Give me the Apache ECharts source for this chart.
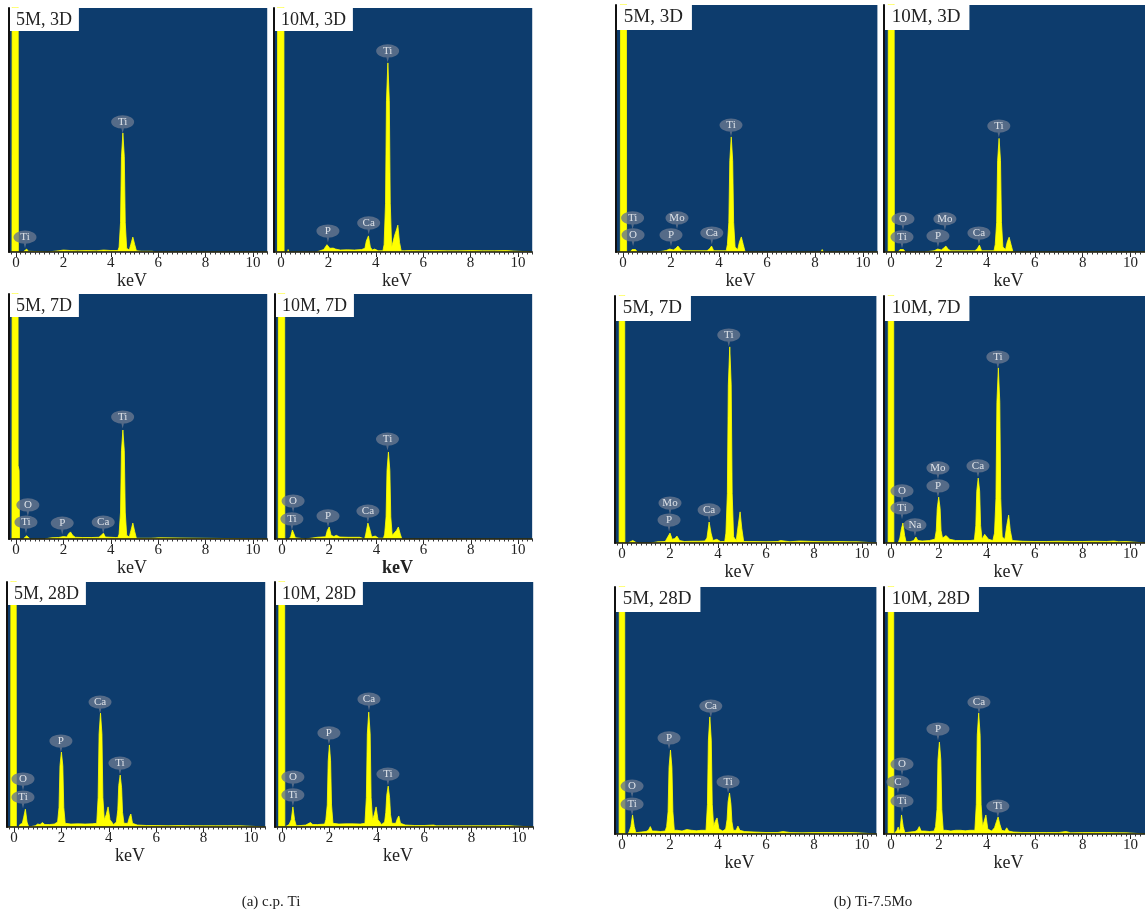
<!DOCTYPE html>
<html><head><meta charset="utf-8">
<script src="https://cdn.jsdelivr.net/npm/echarts@6.0.0/dist/echarts.min.js"></script>
<style>html,body{margin:0;padding:0;background:#fff}#c{width:1145px;height:916px}</style>
</head><body><div id="c"></div>
<script>
// ---------- DATA ----------
const panelLabels = ['5M, 3D','10M, 3D','5M, 7D','10M, 7D','5M, 28D','10M, 28D',
                     '5M, 3D','10M, 3D','5M, 7D','10M, 7D','5M, 28D','10M, 28D'];
const captions = ['(a) c.p. Ti', '(b) Ti-7.5Mo'];
const tickLabels = [0, 2, 4, 6, 8, 10];
const axisName = 'keV';

// spectra: [keV, relative counts (% of plot height); the 0 keV noise peak is off-scale]
const specA_5M3D = [[-0.3,0],[-0.17,0],[-0.15,300],[0.08,300],[0.1,0],[0.3,0],[0.38,0.3],[0.45,1.2],[0.52,0.3],[0.6,0],[1.35,0],[1.4,0.6],[1.8,0.5],[2.0,0.8],[2.3,0.6],[2.6,0.5],[3.0,0.6],[3.4,0.5],[3.7,0.8],[4.0,0.6],[4.3,0.6],[4.35,2],[4.41,12],[4.45,39],[4.51,48.8],[4.57,39],[4.61,12],[4.67,1.5],[4.78,0.8],[4.84,3],[4.93,6.1],[5.01,3],[5.08,0.5],[5.3,0.3],[5.75,0.3],[5.8,0.8],[5.85,0],[10.6,0]];
const specA_10M3D = [[-0.3,0],[-0.15,0],[-0.13,300],[0.11,300],[0.13,0],[0.28,0],[0.3,1],[0.33,0],[1.5,0],[1.55,0.8],[1.8,1],[1.88,1.5],[1.94,3],[1.99,3.7],[2.06,1.5],[2.2,1.6],[2.3,1.2],[2.5,0.8],[2.8,0.9],[3.1,0.8],[3.4,1],[3.54,1.5],[3.6,4.5],[3.69,6.6],[3.77,2],[3.85,0.8],[3.95,1.2],[4.02,1.6],[4.1,0.5],[4.3,0.5],[4.35,3],[4.41,20],[4.45,62],[4.51,77.5],[4.57,62],[4.61,20],[4.67,2],[4.72,2],[4.8,7],[4.87,9],[4.93,11],[5.0,4],[5.07,0.5],[5.2,0.5],[5.5,0.6],[6.0,0.5],[6.5,0.6],[7.0,0.5],[7.5,0.5],[8.0,0.6],[8.5,0.5],[9.0,0.5],[9.5,0.6],[9.8,0.4],[9.85,0],[10.6,0]];
const specA_5M7D = [[-0.3,0],[-0.17,0],[-0.15,300],[0.08,300],[0.09,30],[0.13,28],[0.15,0],[0.3,0],[0.38,0.5],[0.45,1.3],[0.52,0.5],[0.6,0],[1.2,0],[1.25,0.6],[1.5,0.5],[1.8,0.6],[2.0,1],[2.15,0.8],[2.21,2],[2.3,2.9],[2.39,1.5],[2.5,0.7],[2.8,0.6],[3.2,0.6],[3.5,0.7],[3.6,1.5],[3.69,2.4],[3.77,0.8],[4.2,0.6],[4.3,0.6],[4.35,2],[4.41,11],[4.45,36],[4.51,44.5],[4.57,36],[4.61,11],[4.67,1.5],[4.78,0.8],[4.85,3.5],[4.93,6.5],[5.01,3],[5.08,0.3],[5.7,0.3],[5.75,0.8],[6.05,0.5],[6.1,0],[10.6,0]];
const specA_10M7D = [[-0.3,0],[-0.16,0],[-0.14,300],[0.1,300],[0.12,0],[0.3,0],[0.37,1],[0.44,3.7],[0.5,3.5],[0.57,0.5],[0.65,0],[1.0,0],[1.05,0.8],[1.5,0.7],[1.85,0.9],[1.92,3.5],[2.0,4.9],[2.08,1.5],[2.2,1],[2.3,1.5],[2.45,0.8],[2.8,0.7],[3.3,0.7],[3.35,0],[3.5,0],[3.55,2],[3.64,6.5],[3.72,4],[3.8,0.8],[3.95,1.2],[4.1,0.3],[4.3,0.3],[4.35,2],[4.41,9],[4.45,28],[4.51,35.5],[4.57,28],[4.61,9],[4.67,1.5],[4.75,1],[4.85,3.5],[4.93,4.9],[5.01,2],[5.08,0],[10.6,0]];
const specA_5M28D = [[-0.3,0],[-0.14,0],[-0.12,300],[0.08,300],[0.1,0],[0.2,0],[0.25,1],[0.35,1.5],[0.41,4],[0.48,7.3],[0.55,2],[0.62,0],[0.9,0.5],[1.0,1.2],[1.1,1],[1.2,1.8],[1.3,1],[1.5,1],[1.7,1.2],[1.84,2],[1.9,8],[1.94,25],[2.0,30.6],[2.06,25],[2.1,8],[2.16,1.5],[2.4,1.2],[2.7,1.3],[3.0,1.2],[3.3,1.3],[3.49,1.5],[3.55,12],[3.59,38],[3.65,46.5],[3.71,38],[3.75,12],[3.81,3],[3.89,5],[3.97,8.2],[4.05,3],[4.2,1],[4.32,2],[4.38,7],[4.42,17],[4.48,21.2],[4.54,16],[4.58,6],[4.64,1.5],[4.8,1.5],[4.87,4],[4.93,5.3],[5.0,1.5],[5.2,0.8],[5.6,0.6],[6.0,0.6],[6.5,0.5],[7.0,0.6],[7.5,0.5],[8.0,0.5],[8.5,0.5],[9.0,0.5],[9.5,0.5],[9.8,0.4],[9.85,0],[10.6,0]];
const specA_10M28D = [[-0.3,0],[-0.14,0],[-0.12,300],[0.1,300],[0.12,0],[0.2,0],[0.3,1],[0.39,3],[0.46,8.2],[0.53,3],[0.6,0.5],[0.8,0.6],[1.0,0.8],[1.2,1.8],[1.3,1],[1.5,1],[1.8,1.2],[1.85,3],[1.91,9],[1.95,27],[2.0,33.5],[2.05,27],[2.09,9],[2.15,1.5],[2.4,1.2],[2.7,1.3],[3.0,1.3],[3.3,1.2],[3.5,1.5],[3.56,12],[3.6,38],[3.66,46.9],[3.72,38],[3.76,12],[3.82,3],[3.89,5],[3.97,8.2],[4.05,3],[4.2,1],[4.33,2],[4.38,6],[4.42,13],[4.48,16.7],[4.54,12],[4.58,5],[4.64,1.5],[4.8,1.5],[4.87,3.5],[4.93,4.5],[5.0,1.5],[5.2,0.8],[5.6,0.6],[6.0,0.6],[6.4,0.8],[6.5,0.5],[7.0,0.5],[7.5,0.5],[8.0,0.5],[8.5,0.5],[9.0,0.5],[9.5,0.6],[9.8,0.4],[9.85,0],[10.6,0]];
const specB_5M3D = [[-0.3,0],[-0.11,0],[-0.09,300],[0.13,300],[0.15,0],[0.3,0],[0.38,1],[0.45,1.5],[0.52,1],[0.6,0],[0.95,0],[1.0,0.8],[1.05,0],[1.45,0],[1.5,0.6],[1.8,0.6],[1.95,1.2],[2.0,1.5],[2.1,0.8],[2.2,1.5],[2.29,2.4],[2.4,1],[2.5,0.5],[3.0,0.5],[3.5,0.5],[3.6,1.2],[3.69,2.4],[3.78,0.5],[4.3,0.5],[4.35,3],[4.41,12],[4.45,37],[4.51,46.6],[4.57,37],[4.61,12],[4.67,2],[4.78,1],[4.85,4],[4.93,6.1],[5.01,3],[5.09,0],[5.98,0],[6.0,0.8],[6.02,0],[6.78,0],[6.8,0.8],[6.82,0],[8.25,0],[8.3,1],[8.35,0],[10.6,0]];
const specB_10M3D = [[-0.3,0],[-0.12,0],[-0.1,300],[0.12,300],[0.14,0],[0.3,0],[0.38,1],[0.45,1.5],[0.52,1],[0.6,0],[1.0,0],[1.02,0.5],[1.05,0],[1.4,0],[1.45,0.5],[1.8,0.5],[1.95,1.2],[2.0,1.6],[2.1,0.8],[2.2,1.6],[2.29,2.4],[2.4,1],[2.5,0.5],[3.0,0.5],[3.5,0.5],[3.6,1.3],[3.69,2.8],[3.78,0.5],[4.3,0.5],[4.35,3],[4.41,12],[4.45,37],[4.51,46],[4.57,37],[4.61,12],[4.67,2],[4.78,1],[4.85,4],[4.93,6],[5.01,3],[5.09,0],[10.6,0]];
const specB_5M7D = [[-0.3,0],[-0.12,0],[-0.1,300],[0.1,300],[0.12,0],[0.25,0],[0.3,0.6],[0.45,1],[0.55,0.4],[0.65,0],[1.2,0],[1.25,0.4],[1.5,0.5],[1.8,0.6],[1.91,2.5],[2.0,4],[2.09,1.5],[2.2,1.8],[2.29,2.8],[2.4,1],[2.6,0.6],[2.9,0.7],[3.2,0.7],[3.45,0.8],[3.54,2],[3.63,8.5],[3.71,4],[3.79,1],[3.95,1.5],[4.02,1.8],[4.1,0.6],[4.28,0.6],[4.33,4],[4.39,20],[4.43,64],[4.49,79.4],[4.55,64],[4.59,20],[4.65,2.5],[4.76,1],[4.84,7],[4.92,12.6],[4.99,6],[5.07,0.6],[5.5,0.6],[6.0,0.5],[6.5,0.6],[6.6,1],[7.0,0.5],[7.4,0.8],[8.0,0.6],[8.5,0.5],[9.0,0.6],[9.5,0.5],[9.8,0.5],[9.85,0],[10.6,0]];
const specB_10M7D = [[-0.3,0],[-0.12,0],[-0.1,300],[0.1,300],[0.12,0],[0.3,0],[0.37,2],[0.44,6],[0.5,8.1],[0.57,3],[0.63,0.5],[0.8,0.5],[0.95,1],[1.04,2.4],[1.12,1],[1.3,0.8],[1.6,1],[1.83,1.5],[1.89,5],[1.93,14],[1.99,18.6],[2.05,14],[2.09,5],[2.15,2],[2.2,2.5],[2.3,3],[2.45,1.5],[2.7,1],[3.0,1],[3.3,1],[3.48,1.2],[3.54,7],[3.58,21],[3.64,26.3],[3.7,21],[3.74,7],[3.8,1.5],[3.91,3.5],[3.99,4],[4.07,1.5],[4.25,1],[4.32,4],[4.38,18],[4.42,57],[4.48,70.9],[4.54,57],[4.58,18],[4.64,2.5],[4.75,1.5],[4.83,7],[4.91,11.3],[4.98,5],[5.06,1],[5.5,0.7],[6.0,0.6],[6.5,0.6],[7.0,0.7],[7.5,0.6],[8.0,0.6],[8.5,0.7],[9.0,0.6],[9.3,0.8],[9.5,0.5],[9.8,0.6],[9.85,0],[10.6,0]];
const specB_5M28D = [[-0.3,0],[-0.12,0],[-0.1,300],[0.1,300],[0.12,0],[0.25,0],[0.3,1],[0.37,3],[0.44,7.7],[0.51,3],[0.58,0.5],[0.8,0.8],[1.0,1],[1.1,1.5],[1.18,3],[1.26,1.2],[1.4,1.2],[1.6,1],[1.8,1.2],[1.86,3],[1.92,9],[1.96,27],[2.02,34],[2.08,27],[2.12,9],[2.18,1.5],[2.3,1.5],[2.5,1.2],[2.7,1.8],[2.9,1.5],[3.1,1.3],[3.3,1.5],[3.5,1.5],[3.56,12],[3.6,38],[3.66,47.4],[3.72,38],[3.76,12],[3.82,3],[3.88,5],[3.96,6.5],[4.04,2],[4.2,1.2],[4.32,2],[4.38,6],[4.42,13],[4.48,16.6],[4.54,12],[4.58,5],[4.64,1.5],[4.75,1.5],[4.83,3.2],[4.91,1.5],[5.1,1],[5.5,0.8],[6.0,0.6],[6.5,0.6],[6.7,1],[7.0,0.6],[7.5,0.5],[8.0,0.6],[8.5,0.6],[9.0,0.6],[9.5,0.6],[9.8,0.5],[9.85,0],[10.6,0]];
const specB_10M28D = [[-0.3,0],[-0.12,0],[-0.1,300],[0.1,300],[0.12,0],[0.2,0],[0.25,1.5],[0.3,2.8],[0.35,1],[0.38,2],[0.44,7.7],[0.51,3],[0.58,0.5],[0.8,0.8],[1.0,1],[1.1,1.5],[1.18,3],[1.26,1.2],[1.4,1.2],[1.6,1],[1.8,1.2],[1.86,3],[1.92,10],[1.96,30],[2.02,37.2],[2.08,30],[2.12,10],[2.18,1.5],[2.3,1.5],[2.5,1.2],[2.7,1.5],[2.9,1.5],[3.1,1.3],[3.3,1.5],[3.5,1.5],[3.56,12],[3.6,40],[3.66,49],[3.72,40],[3.76,12],[3.82,3],[3.88,5],[3.96,7.7],[4.04,2],[4.2,1.2],[4.32,2.5],[4.4,5],[4.47,6.9],[4.54,4],[4.62,1.5],[4.75,1.2],[4.83,2.5],[4.91,1.2],[5.1,0.8],[5.5,0.6],[6.0,0.6],[6.5,0.6],[7.0,0.6],[7.3,1],[7.5,0.5],[8.0,0.6],[8.5,0.6],[9.0,0.6],[9.5,0.5],[9.8,0.5],[9.85,0],[10.6,0]];

// element tags: [element, keV, tag level (% of plot height)]
const tagsA_5M3D = [['Ti',4.5,53.3],['Ti',0.38,6.1]];
const tagsA_10M3D = [['Ti',4.5,82.4],['P',1.98,8.6],['Ca',3.7,11.9]];
const tagsA_5M7D = [['Ti',4.5,49.8],['O',0.5,13.9],['Ti',0.42,6.9],['P',1.95,6.5],['Ca',3.68,6.9]];
const tagsA_10M7D = [['Ti',4.47,40.8],['O',0.47,15.5],['Ti',0.42,8.2],['P',1.95,9.4],['Ca',3.64,11.4]];
const tagsA_5M28D = [['Ca',3.63,51],['P',1.98,35.1],['Ti',4.47,26.1],['O',0.38,19.6],['Ti',0.38,12.2]];
const tagsA_10M28D = [['Ca',3.67,52.2],['P',1.98,38.4],['Ti',4.47,21.6],['O',0.46,20.4],['Ti',0.46,13.1]];
const tagsB_5M3D = [['Ti',4.5,51.4],['Ti',0.4,13.8],['O',0.42,6.9],['Mo',2.25,13.8],['P',2.0,6.9],['Ca',3.7,7.7]];
const tagsB_10M3D = [['Ti',4.5,51],['O',0.5,13.4],['Ti',0.46,6.1],['Mo',2.25,13.4],['P',1.96,6.5],['Ca',3.67,7.7]];
const tagsB_5M7D = [['Ti',4.45,84.2],['Mo',2.0,16.2],['P',1.96,9.3],['Ca',3.63,13.4]];
const tagsB_10M7D = [['Ti',4.46,75.3],['Mo',1.96,30.4],['P',1.96,23.1],['Ca',3.63,31.2],['O',0.46,21.1],['Ti',0.46,14.2],['Na',1.0,7.3]];
const tagsB_5M28D = [['Ca',3.7,51.8],['P',1.96,38.9],['Ti',4.42,21.1],['O',0.42,19.4],['Ti',0.42,12.1]];
const tagsB_10M28D = [['Ca',3.67,53.4],['P',1.96,42.5],['Ti',4.46,11.3],['O',0.46,28.3],['C',0.29,21.1],['Ti',0.46,13.4]];

// ---------- LAYOUT ----------
const spectra = [specA_5M3D, specA_10M3D, specA_5M7D, specA_10M7D, specA_5M28D, specA_10M28D,
                 specB_5M3D, specB_10M3D, specB_5M7D, specB_10M7D, specB_5M28D, specB_10M28D];
const tags = [tagsA_5M3D, tagsA_10M3D, tagsA_5M7D, tagsA_10M7D, tagsA_5M28D, tagsA_10M28D,
              tagsB_5M3D, tagsB_10M3D, tagsB_5M7D, tagsB_10M7D, tagsB_5M28D, tagsB_10M28D];
// pixel of 0 keV, pixel of 10 keV, plot top, plot bottom
const layout = [
  [16,253,8,252],[281,518,8,252],
  [16,253,294,539],[282,518,294,539],
  [14,251,582,827],[282,519,582,827],
  [623,863,5,252],[891,1131,5,252],
  [622,862,296,543],[891,1131,296,543],
  [622,862,587,834],[891,1131,587,834]
];
const X_MIN = -0.3, X_MAX = 10.6;
const BLUE = '#0d3c6d', YELLOW = '#ffff00', TAG_COLOR = '#68778f';
const SERIF = 'Liberation Serif';
const TAG = 'path://M0,7A12,7,0,1,1,24,7A12,7,0,1,1,0,7ZM10.5,13L13.5,13L12,19Z';
const minorTicks = [];
for (let k = -1; k <= 53; k++) minorTicks.push(Math.round(k * 2) / 10);

const grid = [], xAxis = [], yAxis = [], series = [], title = [];
layout.forEach((g, i) => {
  const s = (g[1] - g[0]) / 10;
  const left = g[0] + X_MIN * s, width = (X_MAX - X_MIN) * s;
  const isB = i >= 6;
  grid.push({left: left, top: g[2], width: width, height: g[3] - g[2], show: true,
             backgroundColor: BLUE, borderWidth: 0});
  xAxis.push({gridIndex: i, type: 'value', min: X_MIN, max: X_MAX, position: 'bottom', z: 10,
    name: axisName, nameLocation: 'middle', nameGap: 17,
    nameTextStyle: {fontFamily: SERIF, fontSize: 18, color: '#222', fontWeight: i === 3 ? 'bold' : 'normal', padding: [0, 12, 0, 0]},
    axisLine: {show: true, onZero: false, lineStyle: {color: '#111', width: 1.5}},
    axisTick: {show: true, customValues: tickLabels, length: 5, lineStyle: {color: '#222', width: 1}},
    axisLabel: {show: true, customValues: tickLabels, margin: 4, fontFamily: SERIF, fontSize: 15, color: '#222'},
    splitLine: {show: false}});
  xAxis.push({gridIndex: i, type: 'value', min: X_MIN, max: X_MAX, position: 'bottom', z: 10,
    axisLine: {show: false, onZero: false},
    axisTick: {show: true, customValues: minorTicks, length: 2.5, lineStyle: {color: '#333', width: 1}},
    axisLabel: {show: false}, splitLine: {show: false}});
  yAxis.push({gridIndex: i, type: 'value', min: 0, max: 100, z: 10,
    axisLine: {show: true, onZero: false, lineStyle: {color: '#111', width: 2}},
    axisTick: {show: false}, axisLabel: {show: false}, splitLine: {show: false}});
  series.push({type: 'line', xAxisIndex: 2 * i, yAxisIndex: i, data: spectra[i],
    symbol: 'none', showSymbol: false, silent: true, z: 2,
    lineStyle: {color: YELLOW, width: 0.8}, areaStyle: {color: YELLOW, opacity: 1}});
  series.push({type: 'scatter', xAxisIndex: 2 * i, yAxisIndex: i, z: 5, silent: true,
    data: tags[i].map(t => [t[1], t[2], t[0]]),
    symbol: TAG, symbolSize: [23, 18], symbolOffset: [0, 2.4],
    itemStyle: {color: TAG_COLOR},
    label: {show: true, position: 'inside', offset: [0, -2.4], formatter: p => p.data[2],
            color: '#fff', fontFamily: SERIF, fontSize: 11}});
  title.push({text: panelLabels[i], left: left, top: g[2],
    backgroundColor: '#fff', padding: isB ? [3, 9, 3, 8] : [3, 7, 2, 7],
    textStyle: {fontFamily: SERIF, fontSize: isB ? 19 : 18, fontWeight: 'normal', color: '#222'}});
});
title.push({text: captions[0], left: 266, top: 890, textAlign: 'center',
  textStyle: {fontFamily: SERIF, fontSize: 15, fontWeight: 'normal', color: '#222'}});
title.push({text: captions[1], left: 868, top: 890, textAlign: 'center',
  textStyle: {fontFamily: SERIF, fontSize: 15, fontWeight: 'normal', color: '#222'}});

const chart = echarts.init(document.getElementById('c'), null, {renderer: 'canvas'});
chart.setOption({animation: false, backgroundColor: '#fff', title, grid, xAxis, yAxis, series});
</script></body></html>
